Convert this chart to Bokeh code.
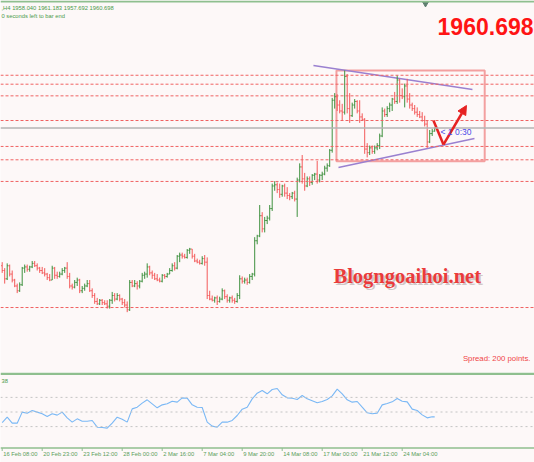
from bokeh.plotting import figure
from bokeh.layouts import column
from bokeh.models import Range1d, Span, Label, Arrow, NormalHead, ColumnDataSource
from bokeh.core.properties import value
from bokeh.embed import file_html
from bokeh.resources import INLINE

# ---------------- data (XAUUSD H4) ----------------
opens = [1845, 1841, 1834, 1845, 1838, 1833, 1828, 1824, 1829, 1843,
         1844, 1842, 1844, 1847, 1845, 1843, 1841, 1839, 1838, 1835,
         1833, 1843, 1837, 1836, 1838, 1841, 1843, 1836, 1828, 1827,
         1831, 1833, 1824, 1826, 1828, 1830, 1824, 1820, 1815, 1813,
         1816, 1814, 1813, 1811, 1816, 1820, 1817, 1820, 1817, 1814,
         1812, 1808, 1831, 1828, 1830, 1828, 1832, 1837, 1838, 1844,
         1839, 1837, 1834, 1833, 1832, 1837, 1836, 1838, 1841, 1845,
         1843, 1853, 1854, 1853, 1852, 1858, 1859, 1853, 1849, 1848,
         1847, 1851, 1848, 1820, 1817, 1816, 1818, 1815, 1817, 1824,
         1819, 1816, 1818, 1816, 1815, 1820, 1834, 1832, 1833, 1831,
         1836, 1838, 1866, 1870, 1887, 1876, 1883, 1885, 1893, 1912,
         1913, 1909, 1905, 1912, 1906, 1904, 1903, 1906, 1901, 1917,
         1928, 1918, 1912, 1918, 1915, 1921, 1922, 1917, 1921, 1922,
         1927, 1929, 1942, 1984, 1987, 1980, 1975, 1974, 2004, 1977,
         1971, 1980, 1983, 1975, 1970, 1968, 1943, 1940, 1944, 1941,
         1944, 1946, 1954, 1975, 1972, 1977, 1980, 1985, 1983, 2001,
         1988, 1987, 1996, 1985, 1980, 1977, 1974, 1972, 1970, 1967,
         1964, 1949, 1956, 1958.040]
highs = [1848, 1843, 1847, 1846, 1841, 1834, 1830, 1831, 1844, 1846,
         1846, 1845, 1849, 1849, 1847, 1844, 1844, 1843, 1839, 1838,
         1845, 1844, 1840, 1840, 1843, 1844, 1848, 1839, 1830, 1833,
         1835, 1834, 1828, 1830, 1833, 1833, 1826, 1822, 1818, 1817,
         1817, 1816, 1816, 1817, 1823, 1822, 1822, 1821, 1818, 1817,
         1815, 1833, 1833, 1833, 1832, 1833, 1839, 1840, 1847, 1845,
         1841, 1839, 1838, 1835, 1838, 1838, 1839, 1843, 1847, 1848,
         1854, 1856, 1856, 1855, 1859, 1860, 1859, 1855, 1851, 1850,
         1853, 1854, 1852, 1824, 1820, 1819, 1820, 1819, 1826, 1825,
         1821, 1819, 1820, 1818, 1822, 1837, 1836, 1835, 1835, 1838,
         1839, 1869, 1871, 1896, 1890, 1886, 1887, 1896, 1914, 1916,
         1915, 1914, 1913, 1914, 1911, 1906, 1907, 1908, 1919, 1931,
         1938, 1923, 1920, 1920, 1922, 1923, 1933, 1922, 1924, 1929,
         1931, 1943, 1986, 1990, 1989, 1984, 1981, 2009, 2006, 1990,
         1982, 1985, 1984, 1984, 1973, 1969, 1948, 1946, 1946, 1946,
         1948, 1956, 1978, 1977, 1979, 1982, 1986, 1991, 2005, 2002,
         1994, 1998, 2002, 1990, 1982, 1980, 1978, 1975, 1974, 1971,
         1967, 1959, 1960, 1961.183]
lows = [1839, 1830, 1833, 1836, 1831, 1827, 1822, 1823, 1828, 1839,
        1840, 1840, 1843, 1844, 1841, 1839, 1838, 1836, 1833, 1832,
        1833, 1834, 1834, 1835, 1837, 1839, 1834, 1826, 1825, 1826,
        1828, 1822, 1822, 1824, 1827, 1823, 1818, 1813, 1812, 1812,
        1812, 1812, 1809, 1809, 1813, 1815, 1816, 1815, 1812, 1810,
        1806, 1807, 1827, 1827, 1825, 1826, 1831, 1834, 1835, 1837,
        1834, 1833, 1832, 1831, 1831, 1834, 1835, 1838, 1840, 1841,
        1842, 1848, 1851, 1851, 1851, 1855, 1851, 1848, 1847, 1846,
        1846, 1845, 1817, 1816, 1815, 1814, 1812, 1814, 1816, 1817,
        1814, 1814, 1814, 1813, 1814, 1817, 1830, 1830, 1829, 1830,
        1833, 1836, 1863, 1869, 1873, 1873, 1880, 1883, 1891, 1908,
        1906, 1902, 1903, 1903, 1901, 1900, 1901, 1899, 1886, 1915,
        1914, 1908, 1911, 1912, 1913, 1917, 1914, 1915, 1917, 1921,
        1924, 1928, 1940, 1977, 1975, 1973, 1967, 1972, 1973, 1965,
        1970, 1977, 1973, 1965, 1967, 1939, 1936, 1938, 1939, 1939,
        1942, 1943, 1953, 1970, 1970, 1974, 1975, 1981, 1981, 1982,
        1985, 1978, 1982, 1977, 1975, 1972, 1970, 1969, 1966, 1962,
        1944, 1948, 1954, 1957.692]
closes = [1841, 1834, 1845, 1838, 1833, 1828, 1824, 1829, 1843, 1844,
          1842, 1844, 1847, 1845, 1843, 1841, 1839, 1838, 1835, 1833,
          1843, 1837, 1836, 1838, 1841, 1843, 1836, 1828, 1827, 1831,
          1833, 1824, 1826, 1828, 1830, 1824, 1820, 1815, 1813, 1816,
          1814, 1813, 1811, 1816, 1820, 1817, 1820, 1817, 1814, 1812,
          1808, 1831, 1828, 1830, 1828, 1832, 1837, 1838, 1844, 1839,
          1837, 1834, 1833, 1832, 1837, 1836, 1838, 1841, 1845, 1843,
          1853, 1854, 1853, 1852, 1858, 1859, 1853, 1849, 1848, 1847,
          1851, 1848, 1820, 1817, 1816, 1818, 1815, 1817, 1824, 1819,
          1816, 1818, 1816, 1815, 1820, 1834, 1832, 1833, 1831, 1836,
          1838, 1866, 1870, 1887, 1876, 1883, 1885, 1893, 1912, 1913,
          1909, 1905, 1912, 1906, 1904, 1903, 1906, 1901, 1917, 1928,
          1918, 1912, 1918, 1915, 1921, 1922, 1917, 1921, 1922, 1927,
          1929, 1942, 1984, 1987, 1980, 1975, 1974, 2004, 1977, 1971,
          1980, 1983, 1975, 1970, 1968, 1943, 1940, 1944, 1941, 1944,
          1946, 1954, 1975, 1972, 1977, 1980, 1985, 1983, 2001, 1988,
          1987, 1996, 1985, 1980, 1977, 1974, 1972, 1970, 1967, 1964,
          1949, 1956, 1958, 1960.698]

# RSI values, one every second bar, plus the last bar
rsi_bar = list(range(0, 173, 2)) + [173]
rsi = [35.6, 42.9, 34.7, 34.7, 49.8, 48.4, 52.1, 49.8, 47.5, 43.8,
       47.5, 45.7, 49.8, 42.0, 36.1, 40.6, 37.4, 37.4, 38.4, 29.2,
       28.8, 27.9, 34.7, 42.9, 40.2, 36.1, 54.3, 56.6, 62.1, 66.7,
       61.2, 55.7, 59.8, 61.2, 64.8, 63.5, 69.4, 68.9, 59.8, 56.6,
       56.2, 36.1, 30.6, 29.2, 36.1, 36.1, 38.4, 45.2, 53.9, 56.6,
       68.0, 75.8, 79.5, 74.9,
       80.8, 82.2, 73.5, 69.4, 68.9, 67.1, 72.6, 68.0, 65.3, 62.6,
       64.4, 67.1, 72.1, 81.3, 74.9, 66.7, 63.5, 64.4, 56.6, 48.9,
       47.5, 48.4, 59.8, 61.6, 63.9, 68.5, 64.8, 63.9, 53.9, 52.1,
       46.1, 42.0, 43.4, 43.38]
rsi_levels = [70, 50, 30]

# horizontal support / resistance levels (price)
levels = [2005.0, 1997.5, 1987.7, 1967.0, 1945.2, 1934.0, 1915.8, 1809.9]
last_price = 1960.698

# drawn objects: (bar index, price)
box = dict(left=133.7, right=193.0, top=2009.0, bottom=1932.8)
upper_trend = dict(x0=124.5, y0=2013.2, x1=188.1, y1=1993.0)
lower_trend = dict(x0=134.5, y0=1927.5, x1=188.9, y1=1951.9)
arrow_x = [172.5, 176.5, 185.7]
arrow_y = [1967.0, 1946.8, 1979.6]

tick_bars = [0, 16, 32, 48, 64, 80, 96, 112, 128, 144, 160]
tick_labels = ["16 Feb 08:00", "20 Feb 23:00", "23 Feb 12:00", "28 Feb 00:00",
               "2 Mar 16:00", "7 Mar 04:00", "9 Mar 20:00", "14 Mar 08:00",
               "17 Mar 00:00", "21 Mar 12:00", "24 Mar 04:00"]

# ---------------- style ----------------
BG = "#fdf8f8"
UP = "#3f913f"
DN = "#f35a5a"
GRN_TXT = "#4a9a4a"
FRAME_G = "#8fbf8f"
FONT = "Liberation Sans"
W = 534
H_MAIN = 372
H_IND = 90


def bx(px):          # page pixel -> bar index
    return (px - 1.7) / 2.5


def my(py):          # page pixel -> price (main panel)
    return 2067.8 - 0.84 * py


def iy(py):          # page pixel -> indicator value
    return (448 - py) / 0.73


X0, X1 = bx(0), bx(W)

# ---------------- main panel ----------------
p = figure(width=W, height=H_MAIN, x_range=Range1d(X0, X1), y_range=Range1d(my(H_MAIN), my(0)),
           output_backend="svg", toolbar_location=None, min_border=0,
           x_axis_location=None, y_axis_location=None)
p.grid.visible = False
p.outline_line_color = None
p.background_fill_color = BG
p.border_fill_color = BG

p.add_layout(Span(location=my(1.0), dimension="width", line_color=FRAME_G, line_width=2))
p.scatter(x=[bx(425)], y=[my(3)], marker="inverted_triangle", size=6, color="#5f7f70")

for lv in levels:
    p.add_layout(Span(location=lv, dimension="width", line_color="#f06262",
                      line_dash="3 2", line_width=1))
p.add_layout(Span(location=last_price, dimension="width", line_color="#b4b4b4", line_width=1.6))

p.quad(left=[box["left"]], right=[box["right"]], top=[box["top"]], bottom=[box["bottom"]],
       fill_alpha=0, line_color="#f3a0a0", line_width=2)
p.segment(x0=[upper_trend["x0"], lower_trend["x0"]], y0=[upper_trend["y0"], lower_trend["y0"]],
          x1=[upper_trend["x1"], lower_trend["x1"]], y1=[upper_trend["y1"], lower_trend["y1"]],
          line_color="#9a80d0", line_width=1.5)

idx = list(range(len(closes)))
cols = [UP if c >= o else DN for o, c in zip(opens, closes)]
src = ColumnDataSource(dict(x=idx, o=opens, h=highs, l=lows, c=closes, col=cols,
                            xl=[i - 0.45 for i in idx], xr=[i + 0.45 for i in idx]))
p.segment(x0="x", y0="h", x1="x", y1="l", line_color="col", line_width=1, source=src)
p.segment(x0="xl", y0="o", x1="x", y1="o", line_color="col", line_width=1, source=src)
p.segment(x0="x", y0="c", x1="xr", y1="c", line_color="col", line_width=1, source=src)

ARW = "#e62222"
p.line(x=arrow_x[:2], y=arrow_y[:2], line_color=ARW, line_width=2.5)
p.add_layout(Arrow(end=NormalHead(size=9, fill_color=ARW, line_color=ARW),
                   x_start=arrow_x[1], y_start=arrow_y[1], x_end=arrow_x[2], y_end=arrow_y[2],
                   line_color=ARW, line_width=2.5))

p.add_layout(Label(x=bx(440), y=my(131.5), text="< 1 0:30", text_font=FONT,
                   text_font_size="8.5px", text_color="#4a4ae8", text_baseline="middle"))

# header texts
p.add_layout(Label(x=bx(1), y=my(7), text=",H4  1958.040 1961.183 1957.692 1960.698",
                   text_font=FONT, text_font_size="5.8px", text_color=GRN_TXT,
                   text_baseline="middle"))
p.add_layout(Label(x=bx(1), y=my(15), text="0 seconds left to bar end",
                   text_font=FONT, text_font_size="5.8px", text_color=GRN_TXT,
                   text_baseline="middle"))
p.add_layout(Label(x=bx(533), y=my(25.5), text="1960.698", text_font=FONT,
                   text_font_size="23px", text_font_style="bold", text_color="#ff1414",
                   text_align="right", text_baseline="alphabetic"))

# watermark with shadow
p.add_layout(Label(x=bx(335), y=my(277.5), text="Blogngoaihoi.net", text_font="Liberation Serif",
                   text_font_size="20.5px", text_font_style="bold", text_color="#9a8a8a",
                   text_alpha=0.45, text_baseline="alphabetic"))
p.add_layout(Label(x=bx(333), y=my(275.5), text="Blogngoaihoi.net", text_font="Liberation Serif",
                   text_font_size="20.5px", text_font_style="bold", text_color="#ea3b3b",
                   text_baseline="alphabetic"))

p.add_layout(Label(x=bx(530), y=my(358), text="Spread: 200 points.", text_font=FONT,
                   text_font_size="7.8px", text_color="#f04646", text_align="right",
                   text_baseline="alphabetic"))

# ---------------- indicator panel ----------------
r = figure(width=W, height=H_IND, x_range=Range1d(X0, X1),
           y_range=Range1d(iy(H_MAIN + H_IND), iy(H_MAIN)),
           output_backend="svg", toolbar_location=None, min_border=0,
           x_axis_location=None, y_axis_location=None)
r.grid.visible = False
r.outline_line_color = None
r.background_fill_color = BG
r.border_fill_color = BG

r.add_layout(Span(location=iy(373.3), dimension="width", line_color=FRAME_G, line_width=2.5))
for lv in rsi_levels:
    r.add_layout(Span(location=lv, dimension="width", line_color="#c4c4c4",
                      line_dash="2 3", line_width=1))
r.line(x=rsi_bar, y=rsi, line_color="#7ab8f5", line_width=1.1)
r.add_layout(Label(x=bx(1), y=iy(380), text="38", text_font=FONT, text_font_size="5.8px",
                   text_color=GRN_TXT, text_baseline="middle"))

# bottom time axis
r.add_layout(Span(location=iy(447.5), dimension="width", line_color=FRAME_G, line_width=1.6))
r.segment(x0=tick_bars, y0=[iy(447.5)] * len(tick_bars), x1=tick_bars,
          y1=[iy(450.5)] * len(tick_bars), line_color=FRAME_G, line_width=1)
r.text(x=[t + 0.4 for t in tick_bars], y=[iy(453.3)] * len(tick_bars), text=tick_labels,
       text_font=value(FONT), text_font_size="5.8px", text_color="#5a9e5a",
       text_baseline="middle", text_align="left")

layout = column(p, r, spacing=0)
open("out.html", "w").write(file_html(layout, INLINE))
